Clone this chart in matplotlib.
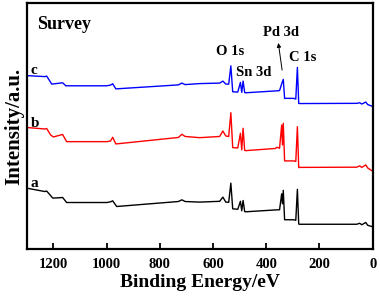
import matplotlib
matplotlib.use("Agg")
import matplotlib.pyplot as plt

plt.rcParams['font.family'] = ['Liberation Serif', 'DejaVu Serif']
plt.rcParams['font.weight'] = 'bold'

# binding energy (eV) breakpoints, with intensities (a.u., stacked)
energy_c = [1300, 1232, 1225, 1206, 1165, 1153, 999, 985, 977, 965, 730, 717, 705, 650, 575, 563, 552,
            541, 533, 526, 507, 497, 492, 487, 481, 477, 357, 350, 341, 336, 331, 297, 289, 283, 278,
            274, 60, 49, 41, 26, 19, 4]
inten_c = [173.5, 172.5, 173, 165, 166.3, 163.3, 163.3, 164, 165.3, 160.2, 164.2, 166, 164.5, 165.5, 166,
           168, 165, 165, 183.3, 157.3, 157, 166.7, 156.7, 168, 156.5, 156.3, 158.3, 158.5, 166, 169.7,
           150.7, 150.7, 150, 181.7, 145.7, 145.5, 145.7, 146.3, 145, 147, 144.5, 143]

energy_b = [1300, 1232, 1225, 1210, 1200, 1165, 1150, 999, 985, 977, 965, 730, 717, 705, 650, 575, 563,
            552, 541, 533, 526, 507, 497, 492, 487, 481, 477, 365, 360, 350, 342, 339, 336, 331, 297,
            289, 283, 278, 274, 60, 49, 41, 26, 19, 4]
inten_b = [121.5, 120, 120.5, 114, 112, 114.5, 107.3, 107.3, 108, 111.7, 105, 111.5, 114.7, 112.5, 111.3,
           112.5, 118, 113, 112.5, 136.3, 101.3, 101, 115.7, 99, 120.7, 98.5, 98.3, 100.5, 101.7, 100.7,
           124, 104, 125.7, 88, 88, 87.5, 122.3, 81.3, 81.5, 81.7, 83, 81.5, 84, 81, 78.3]

energy_a = [1300, 1232, 1225, 1202, 1165, 1150, 999, 985, 977, 962, 730, 717, 705, 650, 575, 563, 552,
            541, 533, 526, 507, 497, 492, 487, 481, 477, 357, 350, 342, 339, 336, 331, 297, 289, 283,
            278, 274, 60, 49, 41, 26, 19, 4]
inten_a = [60.7, 57.3, 57.8, 50.7, 51.3, 46.3, 46.3, 47, 48, 42.3, 47.3, 49, 47.3, 46.7, 47.5, 51.7, 46.7,
           46.5, 65.7, 40, 39.5, 47.5, 38, 48.3, 37.3, 37, 39, 39, 55, 45, 58.5, 29, 29, 28.5, 59.5,
           24.7, 24.5, 24.5, 25.5, 24, 26.3, 23.5, 22.3]

series = [("a", energy_a, inten_a, "black", 62.3),
          ("b", energy_b, inten_b, "red", 122),
          ("c", energy_c, inten_c, "blue", 175)]

peaks = [("O 1s", 537, 194), ("Sn 3d", 447, 173), ("C 1s", 263, 188), ("Pd 3d", 343, 213.3)]

xticks = [1200, 1000, 800, 600, 400, 200, 0]

fig = plt.figure(figsize=(3.8, 2.96), dpi=100)
ax = fig.add_axes([0.0703, 0.1598, 0.9105, 0.8291])

for name, e, y, col, ly in series:
    ax.plot(e, y, color=col, lw=1.0)
    ax.text(1285, ly, name, fontsize=11, fontweight='bold', va='baseline', ha='left')

for name, px, py in peaks:
    ax.text(px, py, name, fontsize=10.5, fontweight='bold', ha='center', va='baseline')

ax.annotate("", xy=(356, 209), xytext=(339, 176.3),
            arrowprops=dict(arrowstyle='-|>', color='black', lw=0.7, mutation_scale=6))

ax.text(1262, 220, "Survey", fontsize=13, fontweight='bold', va='baseline', ha='left')

ax.set_xlim(1300, 0)
ax.set_ylim(0, 246)
ax.set_xticks(xticks)
ax.set_xticklabels([str(t) for t in xticks], fontsize=10.5, fontweight='bold')
ax.set_yticks([])
ax.tick_params(axis='x', direction='in', length=4, width=1.3, pad=7)
for s in ax.spines.values():
    s.set_linewidth(1.6)

ax.set_xlabel("Binding Energy/eV", fontsize=14, fontweight='bold', labelpad=2)
ax.set_ylabel("Intensity/a.u.", fontsize=15, fontweight='bold', labelpad=2)

fig.savefig("out.png", dpi=100)
